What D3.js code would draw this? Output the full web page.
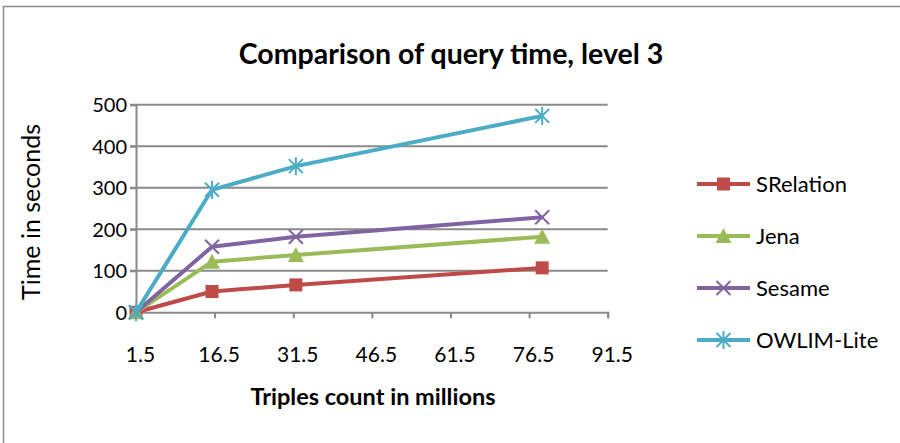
<!DOCTYPE html>
<html>
<head>
<meta charset="utf-8">
<script src="https://cdn.jsdelivr.net/npm/d3@7"></script>
<style>
  html, body { margin: 0; padding: 0; background: #fff; }
  svg { display: block; }
  text { font-family: Lato, "Open Sans", sans-serif; fill: #000; }
</style>
</head>
<body>
<svg id="chart" width="900" height="443"></svg>
<script>
// Dataset size (millions of triples) at which each query was timed
const triples = [1.5, 16, 32, 79];
const seriesNames = ["SRelation", "Jena", "Sesame", "OWLIM-Lite"];
const sRelation = [0, 50, 66, 107];
const jena = [0, 122, 138, 182];
const sesame = [0, 158, 182, 229];
const owlimLite = [0, 295, 352, 473];
const xTicks = [1.5, 16.5, 31.5, 46.5, 61.5, 76.5, 91.5];
const yTicks = [0, 100, 200, 300, 400, 500];

const colors = ["#BE4B48", "#9BBB59", "#8064A2", "#4BACC6"];
const markers = ["square", "triangle", "cross", "asterisk"];
const seriesValues = [sRelation, jena, sesame, owlimLite];

const svg = d3.select("#chart");

// outer chart frame
svg.append("rect")
  .attr("x", 3.5).attr("y", 6.5)
  .attr("width", 920).attr("height", 460)
  .attr("fill", "none").attr("stroke", "#8c8c8c").attr("stroke-width", 1.5);

const x = d3.scaleLinear().domain([1.5, 91.5]).range([136, 607.7]);
const y = d3.scaleLinear().domain([0, 500]).range([312.3, 104.7]);

// horizontal gridlines
svg.append("g").selectAll("line")
  .data(yTicks.filter(d => d > 0))
  .join("line")
  .attr("x1", x(1.5) - 6).attr("x2", x(91.5))
  .attr("y1", d => y(d)).attr("y2", d => y(d))
  .attr("stroke", "#8a8a8a").attr("stroke-width", 2);

// y axis
const yAxis = svg.append("g")
  .attr("transform", `translate(${x(1.5)},0)`)
  .call(d3.axisLeft(y).tickValues(yTicks).tickSize(6).tickPadding(3).tickFormat(d3.format("d")));
yAxis.select(".domain").attr("stroke", "#8a8a8a").attr("stroke-width", 2);
yAxis.selectAll(".tick line").attr("stroke", "#8a8a8a").attr("stroke-width", 2);
yAxis.selectAll(".tick text")
  .attr("font-size", 20).attr("font-family", null).attr("dy", "0.36em");

// x axis
const xAxis = svg.append("g")
  .attr("transform", `translate(0,${y(0)})`)
  .call(d3.axisBottom(x).tickValues(xTicks).tickSize(6).tickPadding(29).tickFormat(d3.format(".1f")));
xAxis.select(".domain").attr("stroke", "#8a8a8a").attr("stroke-width", 2);
xAxis.selectAll(".tick line").attr("stroke", "#8a8a8a").attr("stroke-width", 2);
xAxis.selectAll(".tick text")
  .attr("font-size", 21).attr("font-family", null).attr("dx", 4);

// titles
svg.append("text")
  .attr("x", 451).attr("y", 64)
  .attr("text-anchor", "middle")
  .attr("font-size", 28.5).attr("font-weight", "bold")
  .text("Comparison of query time, level 3");

svg.append("text")
  .attr("x", 373).attr("y", 405)
  .attr("text-anchor", "middle")
  .attr("font-size", 23.5).attr("font-weight", "bold")
  .text("Triples count in millions");

svg.append("text")
  .attr("transform", `translate(40,212) rotate(-90)`)
  .attr("text-anchor", "middle")
  .attr("font-size", 25)
  .text("Time in seconds");

// marker shapes
function drawMarker(g, type, color, cx, cy) {
  if (type === "square") {
    g.append("rect").attr("x", cx - 6.5).attr("y", cy - 6.5)
      .attr("width", 13).attr("height", 13).attr("fill", color);
  } else if (type === "triangle") {
    g.append("path")
      .attr("d", `M${cx},${cy - 8} L${cx + 8},${cy + 7} L${cx - 8},${cy + 7} Z`)
      .attr("fill", color);
  } else if (type === "cross") {
    g.append("path")
      .attr("d", `M${cx - 7},${cy - 7} L${cx + 7},${cy + 7} M${cx - 7},${cy + 7} L${cx + 7},${cy - 7}`)
      .attr("stroke", color).attr("stroke-width", 2);
  } else {
    g.append("path")
      .attr("d", `M${cx - 7},${cy - 7} L${cx + 7},${cy + 7} M${cx - 7},${cy + 7} L${cx + 7},${cy - 7} M${cx},${cy - 9} L${cx},${cy + 9}`)
      .attr("stroke", color).attr("stroke-width", 2);
  }
}

const line = d3.line().x(d => x(d[0])).y(d => y(d[1]));

seriesValues.forEach((vals, i) => {
  const pts = triples.map((t, j) => [t, vals[j]]);
  const g = svg.append("g");
  g.append("path")
    .attr("d", line(pts))
    .attr("fill", "none")
    .attr("stroke", colors[i])
    .attr("stroke-width", 4)
    .attr("stroke-linejoin", "round");
  pts.forEach(p => drawMarker(g, markers[i], colors[i], x(p[0]), y(p[1])));
});

// legend
const legendY = [184, 236, 288, 340];
seriesNames.forEach((name, i) => {
  const g = svg.append("g");
  g.append("line")
    .attr("x1", 697).attr("x2", 750)
    .attr("y1", legendY[i]).attr("y2", legendY[i])
    .attr("stroke", colors[i]).attr("stroke-width", 4);
  drawMarker(g, markers[i], colors[i], 723.5, legendY[i]);
  g.append("text")
    .attr("x", 756).attr("y", legendY[i])
    .attr("dy", "0.36em")
    .attr("font-size", 22)
    .text(name);
});
</script>
</body>
</html>
